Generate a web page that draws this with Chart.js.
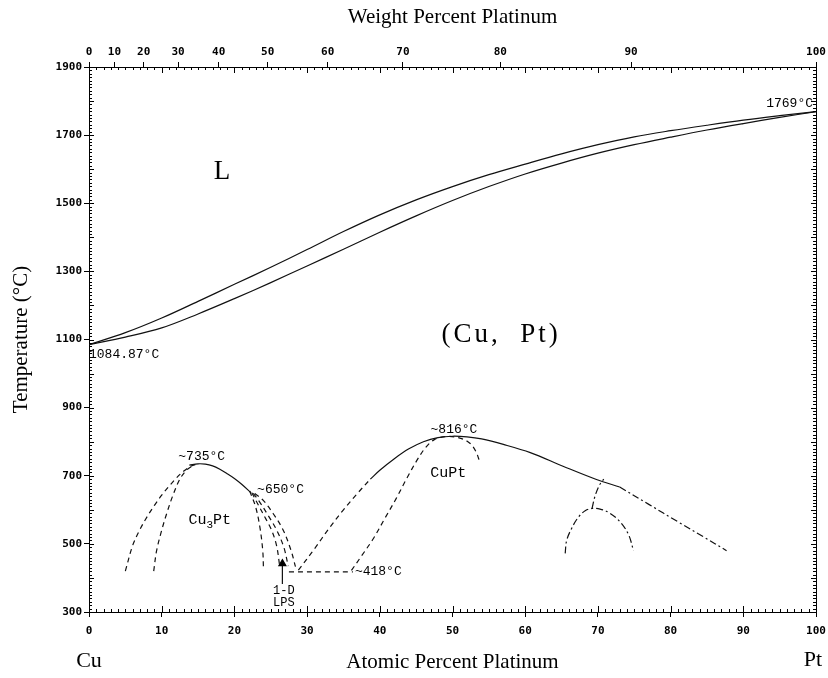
<!DOCTYPE html>
<html>
<head>
<meta charset="utf-8">
<title>Cu-Pt</title>
<script src="https://cdn.jsdelivr.net/npm/chart.js@4.4.1/dist/chart.umd.min.js"></script>
<style>
  body { margin: 0; background: #fff; }
  canvas { display: block; }
</style>
</head>
<body>
<canvas id="phase_chart" width="828" height="678"></canvas>
<script>
// melting points and invariant temperatures, °C
const cuMelt = 1084.87;
const ptMelt = 1769;
const cu3ptMax = 735;
const cu3ptKink = 650;
const cuptMax = 816;
const lpsTemp = 418;

const atTicks = [0, 10, 20, 30, 40, 50, 60, 70, 80, 90, 100];
const wtTicks = [0, 10, 20, 30, 40, 50, 60, 70, 80, 90, 100];
const tempTicks = [300, 500, 700, 900, 1100, 1300, 1500, 1700, 1900];

// [at.% Pt, °C]
const liquidus = [[0, cuMelt], [5, 1120], [10, 1163], [15, 1212], [20, 1262], [25, 1312], [30, 1364],
  [35, 1417], [40, 1466], [45, 1510], [50, 1549], [55, 1584], [60, 1615], [65, 1645], [70, 1672],
  [75, 1695], [80, 1713], [85, 1729], [90, 1744], [95, 1757], [100, ptMelt]];
const solidus = [[0, cuMelt], [5, 1107], [10, 1134], [15, 1175], [20, 1220], [25, 1267], [30, 1316],
  [35, 1365], [40, 1415], [45, 1463], [50, 1508], [55, 1549], [60, 1586], [65, 1618], [70, 1647],
  [75, 1672], [80, 1694], [85, 1715], [90, 1734], [95, 1752], [100, ptMelt]];

// Cu3Pt ordering
const cu3ptTop = [[13.8, 731], [15, cu3ptMax], [16, 734], [17, 729], [18, 719], [19, 706], [20, 692],
  [21, 675], [22.3, cu3ptKink]];
const cu3ptOuter = [[5, 420], [6, 495], [7, 542], [8, 580], [9, 613], [10, 643], [11, 669], [12, 693],
  [13, 713], [14, 728], [15, cu3ptMax]];
const cu3ptInner = [[8.9, 420], [9.3, 480], [10, 540], [10.7, 590], [11.5, 640], [12.5, 690],
  [13.5, 718], [14.5, 732]];
const cu3ptRightA = [[22.1, 655], [22.9, 610], [23.5, 550], [23.9, 480], [24, 425]];
const cu3ptRightB = [[22.4, cu3ptKink], [23.2, 618], [24.2, 578], [25.1, 541], [25.8, 495], [26.2, 440]];
const cu3ptRightC = [[22.6, 648], [23.5, 622], [24.6, 585], [25.8, 541], [26.8, 490], [27.4, 435]];
const cu3ptRightD = [[22.8, 648], [24, 627], [25.3, 590], [26.7, 541], [27.8, 480], [28.4, 433]];
const lpsLine = [[27.5, lpsTemp], [36.3, lpsTemp]];
const lpsArrow = [[26.6, 382], [26.6, 442]];

// CuPt ordering
const cuptLeft = [[28.8, 423], [31, 485], [33, 545], [35, 600], [37, 650], [38.7, 690]];
const cuptTop = [[38.7, 690], [40, 716], [42, 750], [44, 779], [46, 800], [48, 812], [50, cuptMax],
  [52, 814], [54, 808], [57, 792], [60.7, 768], [65.2, 728], [69.8, 689], [73, 667]];
const cuptRight = [[73, 667], [77, 616], [81, 565], [84.5, 521], [87.7, 480]];
const cuptInner = [[36.1, 422], [37.5, 465], [39.1, 515], [40.7, 575], [42.3, 635], [43.7, 692],
  [45.1, 745], [46.3, 783], [47.5, 806], [49, 815], [50.8, 812], [52.3, 797], [53.2, 772], [53.8, 737]];
const dome70 = [[65.5, 472], [65.7, 510], [66.4, 546], [67.3, 578], [68.3, 598], [69.2, 604],
  [70.3, 602], [71.5, 592], [73, 566], [74.2, 528], [74.9, 480]];
const dome70Stem = [[69.2, 604], [69.6, 640], [70.2, 672], [70.8, 690]];

const DASH = [5, 4];
const DASHDOT = [7, 3, 2, 3];

function wtToAt(w){
    const pt = w / 195.08;
    const cu = (100 - w) / 63.546;
    return 100 * pt / (pt + cu);
}

function curve(points, dash){
    return {
        data: points.map(function(p){ return {x: p[0], y: p[1]}; }),
        showLine: true,
        borderColor: '#111',
        borderWidth: 1.2,
        borderDash: dash || [],
        tension: 0.35,
        pointRadius: 0
    };
}

const arrow = curve(lpsArrow);
arrow.pointRadius = [0, 4];
arrow.pointStyle = 'triangle';
arrow.pointBackgroundColor = '#000';
arrow.pointBorderColor = '#000';
arrow.tension = 0;

const tickFont = {family: 'DejaVu Sans Mono', size: 11, weight: 'bold'};
const titleFont = {family: 'Liberation Serif', size: 21};

function plainLabel(value){
    return String(value);
}

// keep the end labels from pushing the plot edges inwards
function fitHorizontal(height){
    return function(scale){
        scale.height = height;
        scale.paddingLeft = 0;
        scale.paddingRight = 0;
    };
}

// minor ticks, right edge and the text inside the plot
const framePlugin = {
    id: 'frame',
    afterDraw: function(chart){
        const ctx = chart.ctx;
        const area = chart.chartArea;
        const x = chart.scales.x;
        const y = chart.scales.y;
        ctx.save();
        ctx.strokeStyle = '#000';
        ctx.lineWidth = 1;
        ctx.beginPath();
        ctx.moveTo(area.right + 0.5, area.top);
        ctx.lineTo(area.right + 0.5, area.bottom);
        for(let v = 0; v <= 100; v++){
            const px = Math.round(x.getPixelForValue(v)) + 0.5;
            const len = v % 10 === 0 ? 6 : 3;
            ctx.moveTo(px, area.bottom);
            ctx.lineTo(px, area.bottom - len);
            ctx.moveTo(px, area.top);
            ctx.lineTo(px, area.top + len);
        }
        for(let t = 300; t <= 1900; t += 10){
            const py = Math.round(y.getPixelForValue(t)) + 0.5;
            const len = t % 100 === 0 ? 5 : 3;
            ctx.moveTo(area.left, py);
            ctx.lineTo(area.left + len, py);
            ctx.moveTo(area.right, py);
            ctx.lineTo(area.right - len, py);
        }
        ctx.stroke();

        function text(str, xv, yv, dx, dy, font, align, base){
            ctx.font = font;
            ctx.textAlign = align || 'center';
            ctx.textBaseline = base || 'middle';
            ctx.fillText(str, x.getPixelForValue(xv) + dx, y.getPixelForValue(yv) + dy);
        }
        ctx.fillStyle = '#000';
        const small = '13px "Liberation Mono"';
        text('L', 18.3, 1592, 0, 0, '27px "Liberation Serif"');
        ctx.letterSpacing = '3px';
        text('(Cu,  Pt)', 56.7, 1113, 0, 0, '27px "Liberation Serif"');
        ctx.letterSpacing = '0px';
        text(cuMelt.toFixed(2) + '°C', 0, cuMelt, 0, 10, small, 'left');
        text(ptMelt + '°C', 100, ptMelt, -3, -8, small, 'right');
        text('~' + cu3ptMax + '°C', 15.5, cu3ptMax, 0, -1, small, 'center', 'bottom');
        text('~' + cu3ptKink + '°C', 22.3, cu3ptKink, 6, -3, small, 'left');
        text('~' + cuptMax + '°C', 50.2, cuptMax, 0, 0, small, 'center', 'bottom');
        text('~' + lpsTemp + '°C', 36.3, lpsTemp, 2, 0, small, 'left');
        text('1-D', 26.8, lpsArrow[0][1], 0, 7, '12px "Liberation Mono"');
        text('LPS', 26.8, lpsArrow[0][1], 0, 19, '12px "Liberation Mono"');
        text('CuPt', 49.4, 708, 0, 0, '15px "Liberation Mono"');

        // Cu3Pt with subscript
        const cx = x.getPixelForValue(16.6);
        const cy = y.getPixelForValue(570);
        ctx.font = '15px "Liberation Mono"';
        const w1 = ctx.measureText('Cu').width;
        const w3 = ctx.measureText('Pt').width;
        ctx.font = '11px "Liberation Mono"';
        const w2 = ctx.measureText('3').width;
        let sx = cx - (w1 + w2 + w3) / 2;
        ctx.textAlign = 'left';
        ctx.textBaseline = 'middle';
        ctx.font = '15px "Liberation Mono"';
        ctx.fillText('Cu', sx, cy);
        ctx.font = '11px "Liberation Mono"';
        ctx.fillText('3', sx + w1, cy + 5);
        ctx.font = '15px "Liberation Mono"';
        ctx.fillText('Pt', sx + w1 + w2, cy);

        // pure element names under the ends of the axis
        ctx.font = '22px "Liberation Serif"';
        ctx.textAlign = 'center';
        ctx.fillText('Cu', x.getPixelForValue(0), 661);
        ctx.fillText('Pt', x.getPixelForValue(100) - 3, 660);
        ctx.restore();
    }
};

const ctx = document.getElementById('phase_chart').getContext('2d');
const chart = new Chart(ctx, {
    type: 'scatter',
    data: {
        datasets: [
            curve(liquidus),
            curve(solidus),
            curve(cu3ptTop),
            curve(cu3ptOuter, DASH),
            curve(cu3ptInner, DASH),
            curve(cu3ptRightA, DASH),
            curve(cu3ptRightB, DASH),
            curve(cu3ptRightC, DASH),
            curve(cu3ptRightD, DASH),
            curve(lpsLine, DASH),
            arrow,
            curve(cuptLeft, DASH),
            curve(cuptTop),
            curve(cuptRight, DASHDOT),
            curve(cuptInner, DASH),
            curve(dome70, DASHDOT),
            curve(dome70Stem, DASHDOT)
        ]
    },
    options: {
        responsive: false,
        animation: false,
        layout: { padding: { left: 0, right: 12, top: 0, bottom: 0 } },
        plugins: {
            legend: { display: false },
            tooltip: { enabled: false }
        },
        scales: {
            x: {
                type: 'linear',
                position: 'bottom',
                min: 0,
                max: 100,
                afterBuildTicks: function(scale){
                    scale.ticks = atTicks.map(function(v){ return {value: v}; });
                },
                afterFit: fitHorizontal(66),
                grid: { drawOnChartArea: false, color: '#000', tickLength: 5 },
                border: { color: '#000', width: 1 },
                ticks: { font: tickFont, color: '#000', padding: 8, maxRotation: 0, autoSkip: false,
                         callback: plainLabel },
                title: { display: true, text: 'Atomic Percent Platinum', font: titleFont, color: '#000',
                         padding: { top: 0, bottom: 3 } }
            },
            x2: {
                type: 'linear',
                position: 'top',
                min: 0,
                max: 100,
                afterBuildTicks: function(scale){
                    scale.ticks = wtTicks.map(function(w){ return {value: wtToAt(w)}; });
                },
                afterFit: fitHorizontal(67),
                grid: { drawOnChartArea: false, color: '#000', tickLength: 5 },
                border: { color: '#000', width: 1 },
                ticks: {
                    font: tickFont, color: '#000', padding: 3, maxRotation: 0, autoSkip: false,
                    callback: function(value, index){ return String(wtTicks[index]); }
                },
                title: { display: true, text: 'Weight Percent Platinum', font: titleFont, color: '#000',
                         padding: { top: 5, bottom: 0 } }
            },
            y: {
                type: 'linear',
                position: 'left',
                min: 300,
                max: 1900,
                afterBuildTicks: function(scale){
                    scale.ticks = tempTicks.map(function(v){ return {value: v}; });
                },
                afterFit: function(scale){ scale.width = 89; },
                grid: { drawOnChartArea: false, color: '#000', tickLength: 5 },
                border: { color: '#000', width: 1 },
                ticks: { font: tickFont, color: '#000', padding: 2, callback: plainLabel },
                title: { display: true, text: 'Temperature (°C)', font: titleFont, color: '#000',
                         padding: { top: 9, bottom: 0 } }
            }
        }
    },
    plugins: [framePlugin]
});
</script>
</body>
</html>
